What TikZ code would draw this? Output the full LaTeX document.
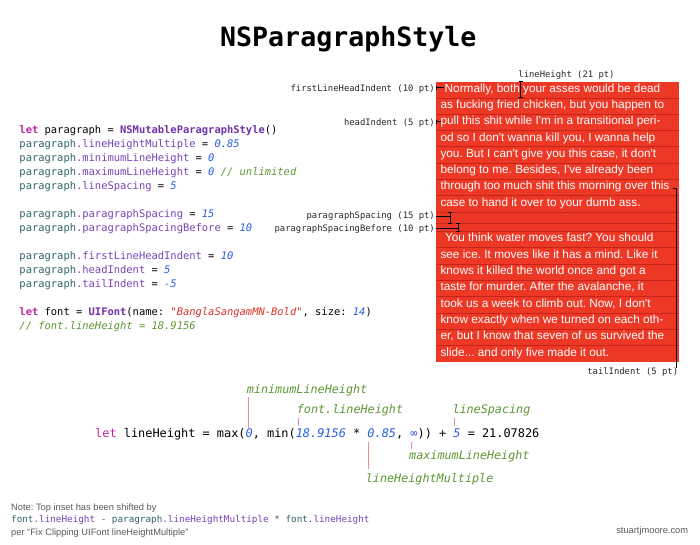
\documentclass[tikz,border=0pt]{standalone}
\usepackage{fontspec}
\newfontfamily\monof{DejaVu Sans Mono}
\newfontfamily\helv{Liberation Sans}
\definecolor{boxred}{RGB}{238,56,38}
\definecolor{sepred}{RGB}{196,36,26}
\definecolor{ckwc}{RGB}{188,40,160}
\definecolor{ctypec}{RGB}{112,50,170}
\definecolor{cpropc}{RGB}{120,66,182}
\definecolor{cvarc}{RGB}{48,100,105}
\definecolor{cnumc}{RGB}{40,92,232}
\definecolor{ccomc}{RGB}{92,152,52}
\definecolor{cstrc}{RGB}{215,50,40}
\definecolor{pinkc}{RGB}{240,140,140}
\definecolor{lblgray}{RGB}{40,40,40}
\definecolor{notegray}{RGB}{90,90,90}
\newcommand\ckey[1]{\textcolor{ckwc}{\bfseries #1}}
\newcommand\ctype[1]{\textcolor{ctypec}{\bfseries #1}}
\newcommand\cprop[1]{\textcolor{cpropc}{#1}}
\newcommand\cvar[1]{\textcolor{cvarc}{#1}}
\newcommand\cnum[1]{\textcolor{cnumc}{\itshape #1}}
\newcommand\ccom[1]{\textcolor{ccomc}{\itshape #1}}
\newcommand\cstr[1]{\textcolor{cstrc}{\itshape #1}}
\newcommand\pline[2]{\cvar{paragraph}\cprop{.#1} = \cnum{#2}}
\newcommand\codefont{\monof\fontsize{10.45}{12}\selectfont}
\newcommand\boxfont{\helv\frenchspacing\fontsize{11.8}{14}\selectfont}
\newcommand\lblfont{\monof\fontsize{8.87}{10}\selectfont}
\newcommand\annfont{\monof\itshape\fontsize{11.76}{14}\selectfont}
\newcommand\formfont{\monof\fontsize{11.9}{14}\selectfont}
\newcommand\notesans{\helv\frenchspacing\fontsize{9.3}{11}\selectfont}
\newcommand\notemono{\monof\fontsize{9.3}{11}\selectfont}
\newcommand\vbeam[3]{\draw[marker] (#1,#2) -- (#1,#3) (#1-2,#2) -- (#1+2,#2) (#1-2,#3) -- (#1+2,#3);}
\begin{document}
\frenchspacing
\begin{tikzpicture}[x=1pt,y=-1pt,
  boxtext/.style={anchor=base west,inner sep=0pt,text=white,font=\boxfont},
  codeline/.style={anchor=mid west,inner sep=0pt,font=\codefont},
  lbl/.style={anchor=mid east,inner sep=0pt,font=\lblfont,text=lblgray},
  ann/.style={anchor=mid west,inner sep=0pt,font=\annfont,text=ccomc},
  pinkline/.style={draw=pinkc,line width=0.8pt},
  marker/.style={draw=black,line width=0.7pt},
  sepline/.style={draw=sepred,line width=0.6pt}]
\useasboundingbox (0,0) rectangle (700,544);
\fill[white] (0,0) rectangle (700,544);

% title
\node[anchor=base,inner sep=0pt,font=\monof\bfseries\fontsize{26.6}{30}\selectfont] (title) at (348.3,46.7) {NSParagraphStyle};

% code block
\node[codeline] (c1) at (19.3,131.5) {\ckey{let} paragraph = \ctype{NSMutableParagraphStyle}()};
\node[codeline] (c2) at (19.3,145.5) {\pline{lineHeightMultiple}{0.85}};
\node[codeline] (c3) at (19.3,159.5) {\pline{minimumLineHeight}{0}};
\node[codeline] (c4) at (19.3,173.5) {\pline{maximumLineHeight}{0} \ccom{// unlimited}};
\node[codeline] (c5) at (19.3,187.5) {\pline{lineSpacing}{5}};
\node[codeline] (c6) at (19.3,215.8) {\pline{paragraphSpacing}{15}};
\node[codeline] (c7) at (19.3,229.2) {\pline{paragraphSpacingBefore}{10}};
\node[codeline] (c8) at (19.3,257.2) {\pline{firstLineHeadIndent}{10}};
\node[codeline] (c9) at (19.3,271.5) {\pline{headIndent}{5}};
\node[codeline] (c10) at (19.3,285.2) {\pline{tailIndent}{-5}};
\node[codeline] (c11) at (19.3,313.2) {\ckey{let} font = \ctype{UIFont}(name: \cstr{"BanglaSangamMN-Bold"}, size: \cnum{14})};
\node[codeline] (c12) at (19.3,327.5) {\ccom{// font.lineHeight = 18.9156}};

% red text box
\fill[boxred] (436,81.5) rectangle (679,361.7);
\foreach \k in {1,...,8} \draw[sepline] (436,81.5+16.3*\k) -- (679,81.5+16.3*\k);
\draw[sepline] (436,223.5) -- (679,223.5);
\foreach \k in {0,...,7} \draw[sepline] (436,231.3+16.3*\k) -- (679,231.3+16.3*\k);

\node[boxtext] (p1) at (444.5,92.1) {Normally, both your asses would be dead};
\node[boxtext] (p2) at (440.3,108.4) {as fucking fried chicken, but you happen to};
\node[boxtext] (p3) at (440.3,124.7) {pull this shit while I'm in a transitional peri-};
\node[boxtext] (p4) at (440.3,141.0) {od so I don't wanna kill you, I wanna help};
\node[boxtext] (p5) at (440.3,157.3) {you. But I can't give you this case, it don't};
\node[boxtext] (p6) at (440.3,173.6) {belong to me. Besides, I've already been};
\node[boxtext] (p7) at (440.3,189.9) {through too much shit this morning over this};
\node[boxtext] (p8) at (440.3,206.2) {case to hand it over to your dumb ass.};
\node[boxtext] (q1) at (444.8,241.9) {You think water moves fast? You should};
\node[boxtext] (q2) at (440.3,258.2) {see ice. It moves like it has a mind. Like it};
\node[boxtext] (q3) at (440.3,274.5) {knows it killed the world once and got a};
\node[boxtext] (q4) at (440.3,290.8) {taste for murder. After the avalanche, it};
\node[boxtext] (q5) at (440.3,307.1) {took us a week to climb out. Now, I don't};
\node[boxtext] (q6) at (440.3,323.4) {know exactly when we turned on each oth-};
\node[boxtext] (q7) at (440.3,339.7) {er, but I know that seven of us survived the};
\node[boxtext] (q8) at (440.3,356.0) {slide... and only five made it out.};

% labels and markers
\node[lbl,anchor=mid] (lLH) at (566.5,75.3) {lineHeight (21 pt)};
\vbeam{520.7}{81.5}{97.8}
\node[lbl] (lFL) at (435,89.3) {firstLineHeadIndent (10 pt)};
\draw[marker] (436.8,85.7) -- (436.8,89.7) (436.8,87.7) -- (444,87.7);
\node[lbl] (lHI) at (435,123.3) {headIndent (5 pt)};
\draw[marker] (436.8,119.5) -- (436.8,123.5) (436.8,121.5) -- (440.5,121.5);
\node[lbl] (lPS) at (435,216.5) {paragraphSpacing (15 pt)};
\coordinate (mPS) at (450,216);
\draw[marker] (435.5,216) -- (mPS);
\vbeam{450}{211.9}{223.5}
\node[lbl] (lPB) at (435,229) {paragraphSpacingBefore (10 pt)};
\coordinate (mPB) at (458,228.3);
\draw[marker] (435.5,228.3) -- (mPB);
\vbeam{458}{223.5}{231.3}
\node[lbl] (lTI) at (678.3,372.5) {tailIndent (5 pt)};
\draw[marker] (673,188) -- (676.5,188) -- (676.5,367.5);

% formula
\node[anchor=mid west,inner sep=0pt,font=\formfont] (formula) at (95,435)
  {\textcolor{ckwc}{let} lineHeight = max(\cnum{0}, min(\cnum{18.9156} * \cnum{0.85}, \textcolor{cnumc}{∞})) + \cnum{5} = 21.07826};
\node[ann] (aMin) at (246.7,391.7) {minimumLineHeight};
\node[ann] (aFont) at (296.7,411.7) {font.lineHeight};
\node[ann] (aSp) at (452.3,411.7) {lineSpacing};
\node[ann] (aMax) at (409,457.7) {maximumLineHeight};
\node[ann] (aMul) at (365.7,480.4) {lineHeightMultiple};
\draw[pinkline] (248.2,397) -- (248.2,427.5);
\draw[pinkline] (298.7,417.7) -- (298.7,426);
\draw[pinkline] (454.3,417.7) -- (454.3,426);
\draw[pinkline] (411.3,441.7) -- (411.3,449.3);
\draw[pinkline] (368.3,441.7) -- (368.3,469.3);

% note
\node[anchor=mid west,inner sep=0pt,font=\notesans,text=notegray] (n1) at (11,508) {Note: Top inset has been shifted by};
\node[anchor=mid west,inner sep=0pt,font=\notemono,text=notegray] (n2) at (11,520.3)
  {\cvar{font}\cprop{.lineHeight} - \cvar{paragraph}\cprop{.lineHeightMultiple} * \cvar{font}\cprop{.lineHeight}};
\node[anchor=mid west,inner sep=0pt,font=\notesans,text=notegray] (n3) at (11,533) {per “Fix Clipping UIFont lineHeightMultiple”};
\node[anchor=mid east,inner sep=0pt,font=\notesans,text=notegray] (site) at (688.3,531.4) {stuartjmoore.com};
\end{tikzpicture}
\end{document}
